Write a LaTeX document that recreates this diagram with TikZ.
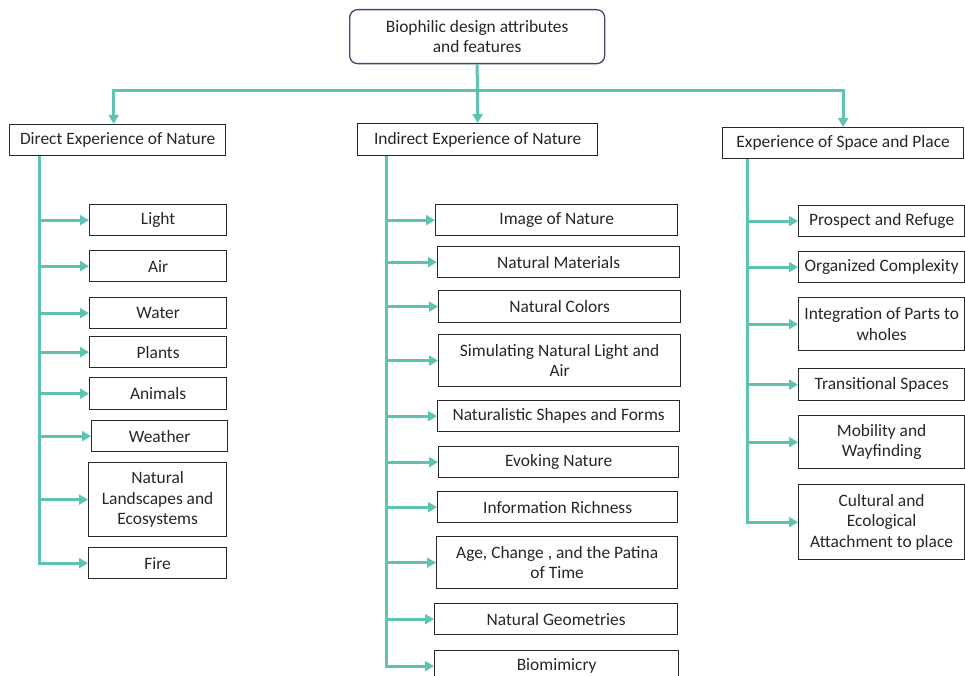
\documentclass[tikz,border=0pt]{standalone}
\usepackage{fontspec}
\setmainfont{Carlito}
\usetikzlibrary{arrows.meta}
\definecolor{tealline}{RGB}{94,196,178}
\definecolor{rootedge}{RGB}{62,72,112}
\definecolor{boxedge}{RGB}{40,40,40}
\begin{document}
\begin{tikzpicture}[x=1pt, y=-1pt,
  box/.style={draw=boxedge, line width=1.3pt, anchor=north west, align=center, inner sep=2pt,
    text=black!85, font=\fontsize{17.4}{20.5}\selectfont},
  link/.style={draw=tealline, line width=3pt},
  arr/.style={link, -{Triangle[length=9pt,width=10pt]}}]
\useasboundingbox (0,0) rectangle (965,676);
\clip (0,0) rectangle (965,676);

\node[box, draw=rootedge, rounded corners=8pt, minimum width=255pt, minimum height=54pt] (root) at (349,9) {Biophilic design attributes\\and features};

\node[box, minimum width=216pt, minimum height=31pt] (dir) at (9,124) {Direct Experience of Nature};
\node[box, minimum width=240pt, minimum height=32pt] (ind) at (357,123) {Indirect Experience of Nature};
\node[box, minimum width=241pt, minimum height=31pt] (space) at (722,127) {Experience of Space and Place};

\coordinate (bus) at (477,91);
\draw[arr] (root.south) -- (ind.north);
\draw[arr] (bus) -| ([xshift=-4pt]dir.north);
\draw[arr] (bus) -| (space.north);

% direct experience
\node[box, minimum width=137pt, minimum height=31pt] (light) at (89,204) {Light};
\node[box, minimum width=137pt, minimum height=31pt] (air) at (89,250) {Air};
\node[box, minimum width=137pt, minimum height=31pt] (water) at (89,297) {Water};
\node[box, minimum width=137pt, minimum height=31pt] (plants) at (89,336) {Plants};
\node[box, minimum width=137pt, minimum height=32pt] (animals) at (89,377) {Animals};
\node[box, minimum width=136pt, minimum height=31pt] (weather) at (91,420) {Weather};
\node[box, minimum width=138pt, minimum height=74pt] (landscape) at (88,462) {Natural\\Landscapes and\\Ecosystems};
\node[box, minimum width=138pt, minimum height=31pt] (fire) at (88,547) {Fire};

% indirect experience
\node[box, minimum width=242pt, minimum height=31pt] (image) at (435,204) {Image of Nature};
\node[box, minimum width=242pt, minimum height=31pt] (materials) at (437,246) {Natural Materials};
\node[box, minimum width=242pt, minimum height=32pt] (colors) at (438,290) {Natural Colors};
\node[box, minimum width=242pt, minimum height=52pt] (simlight) at (438,334) {Simulating Natural Light and\\Air};
\node[box, minimum width=242pt, minimum height=31pt] (shapes) at (437,400) {Naturalistic Shapes and Forms};
\node[box, minimum width=240pt, minimum height=31pt] (evoking) at (438,446) {Evoking Nature};
\node[box, minimum width=240pt, minimum height=31pt] (richness) at (437,491) {Information Richness};
\node[box, minimum width=241pt, minimum height=52pt] (patina) at (436,536) {Age, Change , and the Patina\\of Time};
\node[box, minimum width=243pt, minimum height=31pt] (geometries) at (434,603) {Natural Geometries};
\node[box, minimum width=244pt, minimum height=31pt] (biomimicry) at (434,650) {Biomimicry};

% space and place
\node[box, minimum width=166pt, minimum height=31pt] (prospect) at (798,205) {Prospect and Refuge};
\node[box, minimum width=166pt, minimum height=31pt] (complexity) at (798,251) {Organized Complexity};
\node[box, minimum width=166pt, minimum height=53pt] (integration) at (798,297) {Integration of Parts to\\wholes};
\node[box, minimum width=166pt, minimum height=32pt] (transitional) at (798,368) {Transitional Spaces};
\node[box, minimum width=166pt, minimum height=53pt] (mobility) at (798,415) {Mobility and\\Wayfinding};
\node[box, minimum width=166pt, minimum height=75pt] (cultural) at (798,484) {Cultural and\\Ecological\\Attachment to place};

\coordinate (dspine) at ([xshift=30pt]dir.south west);
\coordinate (ispine) at ([xshift=29pt]ind.south west);
\coordinate (sspine) at ([xshift=25pt]space.south west);
\foreach \c in {light,air,water,plants,animals,weather,landscape,fire}
  \draw[arr] (dspine) |- (\c.west);
\foreach \c in {image,materials,colors,simlight,shapes,evoking,richness,patina,geometries,biomimicry}
  \draw[arr] (ispine) |- (\c.west);
\foreach \c in {prospect,complexity,integration,transitional,mobility,cultural}
  \draw[arr] (sspine) |- (\c.west);
\end{tikzpicture}
\end{document}
